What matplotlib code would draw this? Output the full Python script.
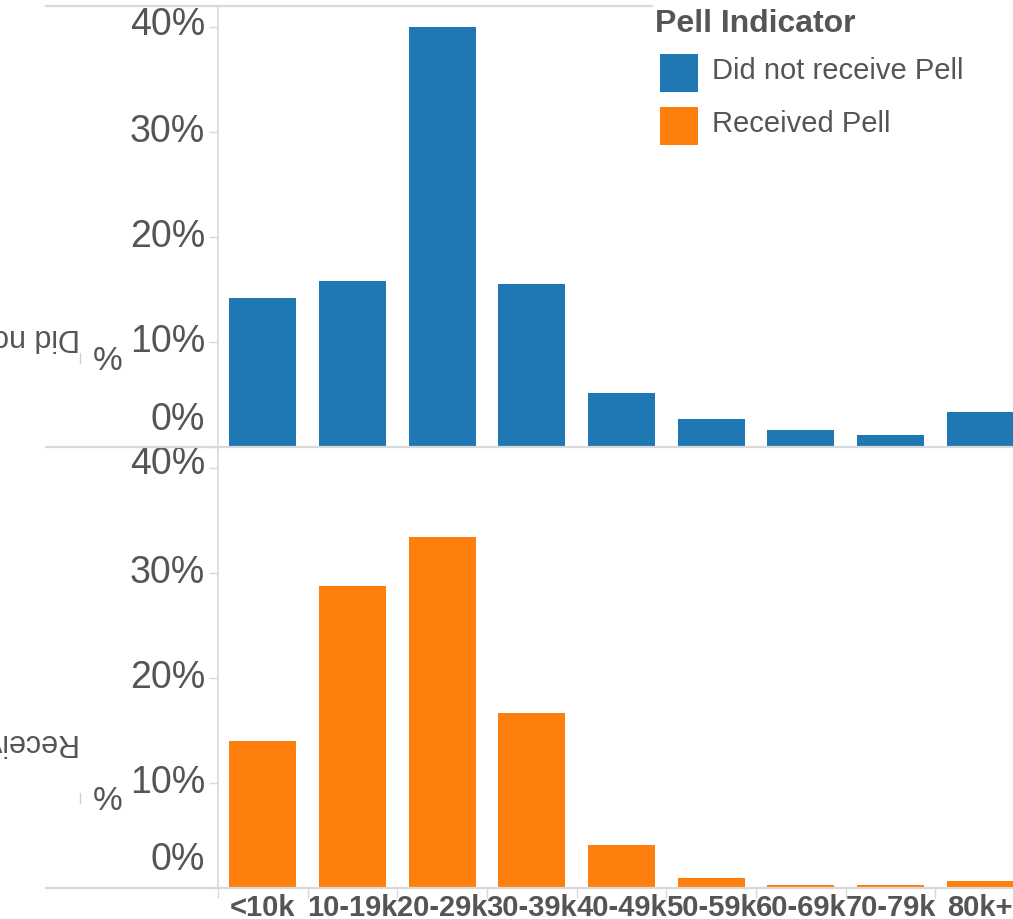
import matplotlib
matplotlib.use("Agg")
import matplotlib.pyplot as plt
from matplotlib.patches import Rectangle
from matplotlib.lines import Line2D
import numpy as np

# Share of students by family income band, split by Pell status (percent)
income_bands = ["<10k", "10-19k", "20-29k", "30-39k", "40-49k",
                "50-59k", "60-69k", "70-79k", "80k+"]
no_pell_pct = [14.2, 15.8, 40.0, 15.5, 5.1, 2.7, 1.6, 1.1, 3.3]
pell_pct = [14.0, 28.8, 33.4, 16.7, 4.1, 0.95, 0.3, 0.3, 0.7]
groups = ["Did not receive Pell", "Received Pell"]
colors = ["#1f77b4", "#ff7f0e"]
y_ticks = [0, 10, 20, 30, 40]
legend_title = "Pell Indicator"

plt.rcParams['font.family'] = ['Liberation Sans', 'DejaVu Sans']

W, H = 1013, 919
fig = plt.figure(figsize=(W / 100, H / 100), dpi=100)
fig.patch.set_facecolor("white")

TEXT = "#555555"
RULE = "#d9d9d9"


def px_rect(x0, y0, x1, y1):
    """Pixel box (top-left origin) -> figure-fraction rect."""
    return [x0 / W, 1 - y1 / H, (x1 - x0) / W, (y1 - y0) / H]


def fx(x):
    return x / W


def fy(y):
    return 1 - y / H


def hline(y, x0, x1):
    fig.add_artist(Line2D([fx(x0), fx(x1)], [fy(y), fy(y)],
                          transform=fig.transFigure, color=RULE, lw=1.6))


panels = [(6, 447), (447, 888)]
series = [no_pell_pct, pell_pct]
# vertical offset (pixels) of the tick labels per panel
label_shift = [{0: 27, 40: 2}, {0: 28, 40: 4}]
row_label_y = [337, 742]
pct_sign_y = [361, 801]

x = np.arange(len(income_bands))
for i, ((top, bottom), vals, color, name) in enumerate(
        zip(panels, series, colors, groups)):
    ax = fig.add_axes(px_rect(218, top, 1025, bottom))
    ax.bar(x, vals, width=0.75, color=color, zorder=2)
    ax.set_xlim(-0.5, len(income_bands) - 0.5)
    ax.set_ylim(0, 42)
    for side in ("top", "right", "bottom"):
        ax.spines[side].set_visible(False)
    ax.spines["left"].set_color(RULE)
    ax.spines["left"].set_linewidth(1.2)
    ax.set_facecolor("none")

    ax.set_yticks(y_ticks)
    ax.set_yticklabels([])
    ax.tick_params(axis="y", length=6.5, width=1, color=RULE)
    for t in y_ticks:
        ax.annotate(f"{t}%", xy=(0, t), xycoords=ax.get_yaxis_transform(),
                    xytext=(-13, label_shift[i].get(t, 0)),
                    textcoords="offset pixels", ha="right", va="center",
                    fontsize=27, color=TEXT, annotation_clip=False)

    if i == 1:
        ax.set_xticks(x)
        ax.set_xticklabels(income_bands, fontsize=21, fontweight="bold",
                           color=TEXT)
        ax.tick_params(axis="x", which="major", length=0, pad=4)
        ax.set_xticks(np.arange(-0.5, len(income_bands)), minor=True)
        ax.tick_params(axis="x", which="minor", length=7, width=1, color=RULE)
    else:
        ax.set_xticks([])

    # row header (rotated, clipped at the figure edge) and axis title stub
    fig.text(fx(80), fy(row_label_y[i]), name, rotation=180, ha="right",
             va="center", fontsize=22, color=TEXT)
    fig.text(fx(108), fy(pct_sign_y[i]), "%", ha="center", va="center",
             fontsize=24, color=TEXT)
    fig.add_artist(Line2D([fx(80), fx(80)],
                          [fy(pct_sign_y[i] - 8), fy(pct_sign_y[i] + 2)],
                          transform=fig.transFigure, color="#cfcfcf", lw=1))

# pane rules
hline(6, 46, 652)
hline(447, 46, W)
hline(888, 46, W)

# legend
fig.text(fx(655), fy(24), legend_title, ha="left", va="center",
         fontsize=23, fontweight="bold", color=TEXT)
for k, (name, color) in enumerate(zip(groups, colors)):
    y0 = 54 + k * 53
    fig.add_artist(Rectangle((fx(660), fy(y0 + 38)), 38 / W, 38 / H,
                             transform=fig.transFigure, facecolor=color,
                             edgecolor="none"))
    fig.text(fx(712), fy(y0 + 17), name, ha="left", va="center",
             fontsize=21, color=TEXT)

fig.savefig("out.png", dpi=100, facecolor="white")
